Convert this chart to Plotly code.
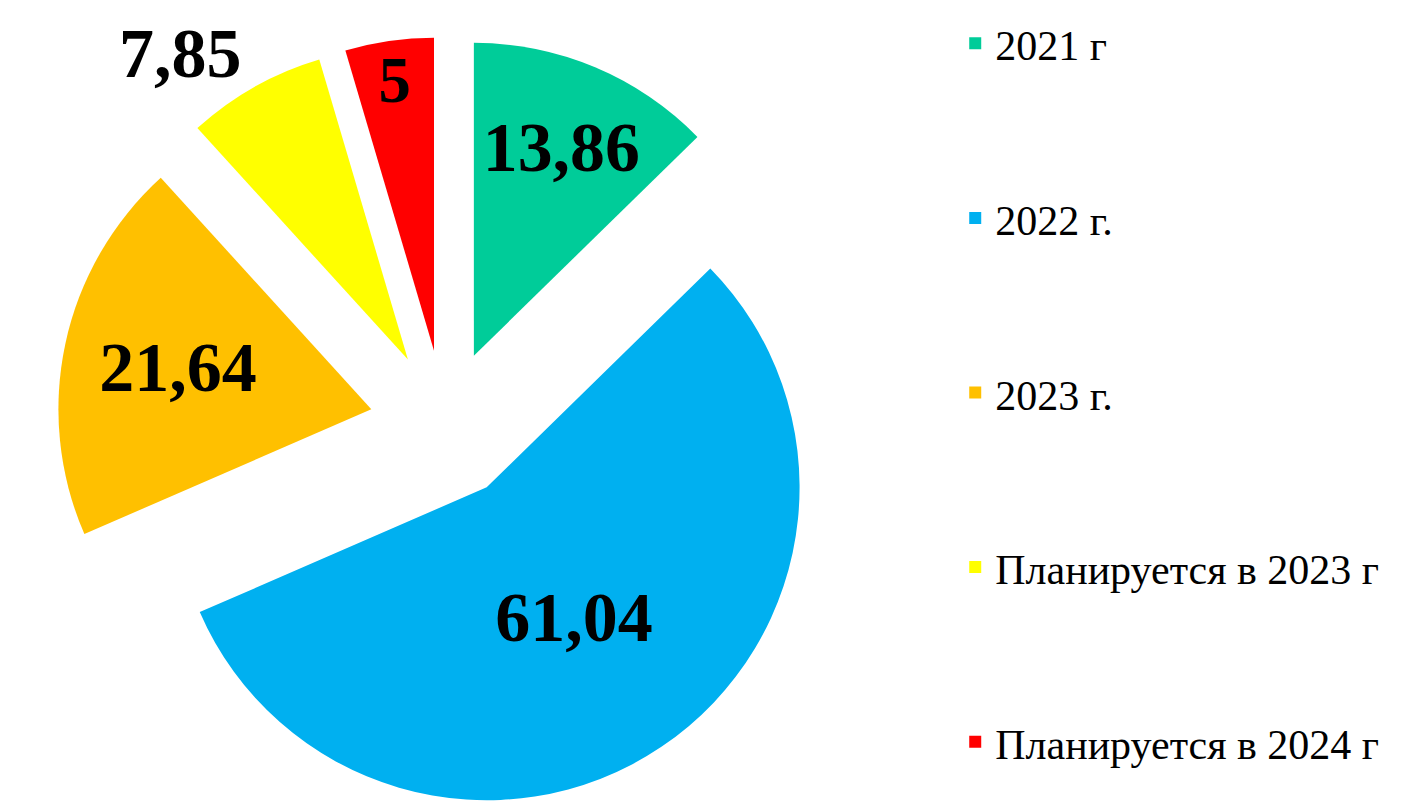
import plotly.graph_objects as go

labels = ["2021 г", "2022 г.", "2023 г.", "Планируется в 2023 г", "Планируется в 2024 г"]
values = [13.86, 61.04, 21.64, 7.85, 5]
value_text = ["13,86", "61,04", "21,64", "7,85", "5"]
colors = ["#00CC99", "#00B0F0", "#FFC000", "#FFFF00", "#FF0000"]
text_pos = ["inside", "inside", "inside", "none", "inside"]

# blank lines after each legend entry reproduce the wide spacing of the reference legend
legend_labels = []
for i, l in enumerate(labels):
    s = "<span style='font-size:42px'>" + l + "</span>"
    if i < len(labels) - 1:
        s += "<br> <br> "
    legend_labels.append(s)

fig = go.Figure(go.Pie(
    labels=legend_labels,
    values=values,
    text=value_text,
    textinfo="text",
    textposition=text_pos,
    insidetextorientation="horizontal",
    textfont=dict(family="Liberation Serif", size=70, color="black", weight="bold"),
    marker=dict(colors=colors, line=dict(width=0)),
    sort=False,
    direction="clockwise",
    rotation=0,
    pull=[0.24] * 5,
    domain=dict(x=[0, 0.616], y=[0, 0.97]),
    hoverinfo="skip",
))

# label of the small yellow slice sits outside the pie, above-left
fig.add_annotation(
    text=value_text[3], x=0.122, y=0.95, xref="paper", yref="paper",
    xanchor="center", yanchor="middle",
    showarrow=False, font=dict(family="Liberation Serif", size=70, color="black", weight="bold"),
)

fig.update_layout(
    width=1418, height=805,
    margin=dict(l=0, r=0, t=0, b=0),
    paper_bgcolor="white",
    plot_bgcolor="white",
    showlegend=True,
    legend=dict(
        x=0.668, y=1.006, xanchor="left", yanchor="top",
        valign="top", maxheight=805,
        font=dict(family="Liberation Serif", size=44, color="black"),
        tracegroupgap=0, itemclick=False,
    ),
)

fig.write_html("out.html")
